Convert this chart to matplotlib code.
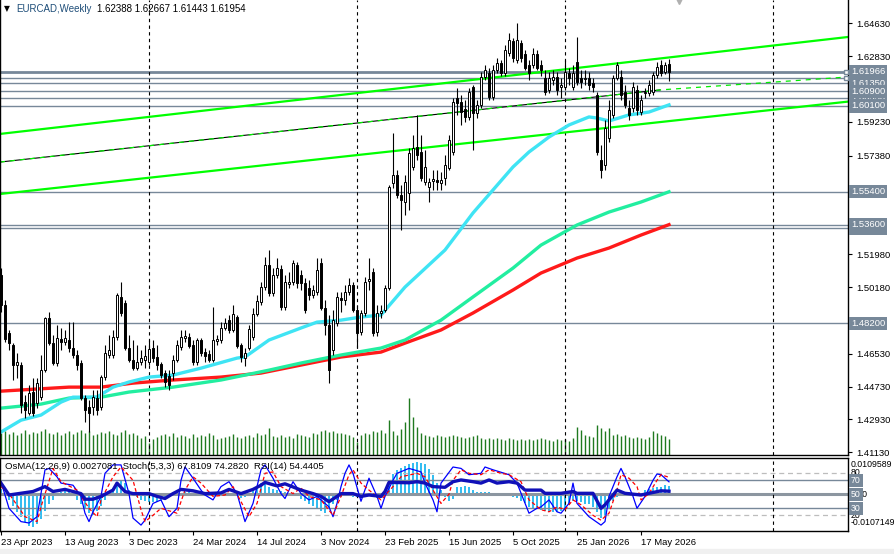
import matplotlib
matplotlib.use("Agg")
import matplotlib.pyplot as plt
import matplotlib.transforms as mtransforms
from matplotlib.patches import Rectangle
import numpy as np

plt.rcParams['font.family'] = ['Liberation Sans', 'DejaVu Sans']

# weekly candles EURCAD
opens = [1.5084, 1.4920, 1.4766, 1.4700, 1.4591, 1.4591, 1.4388, 1.4328, 1.4443, 1.4383,
         1.4415, 1.4563, 1.4848, 1.4711, 1.4602, 1.4733, 1.4717, 1.4728, 1.4684, 1.4646,
         1.4602, 1.4410, 1.4361, 1.4361, 1.4410, 1.4361, 1.4525, 1.4646, 1.4646, 1.4744,
         1.4964, 1.4931, 1.4684, 1.4618, 1.4574, 1.4607, 1.4618, 1.4607, 1.4684, 1.4635,
         1.4596, 1.4547, 1.4531, 1.4547, 1.4618, 1.4689, 1.4739, 1.4744, 1.4700, 1.4607,
         1.4728, 1.4662, 1.4651, 1.4618, 1.4722, 1.4728, 1.4794, 1.4837, 1.4783, 1.4854,
         1.4700, 1.4629, 1.4684, 1.4744, 1.4870, 1.4936, 1.5018, 1.5139, 1.4985, 1.5084,
         1.5117, 1.4909, 1.5035, 1.5046, 1.5139, 1.5084, 1.5040, 1.5013, 1.4975, 1.4991,
         1.5150, 1.4903, 1.4810, 1.4673, 1.4821, 1.4958, 1.4947, 1.4991, 1.5029, 1.4892,
         1.4772, 1.4876, 1.5051, 1.5100, 1.4772, 1.4876, 1.4892, 1.5013, 1.5588, 1.5632,
         1.5522, 1.5484, 1.5533, 1.5676, 1.5785, 1.5758, 1.5594, 1.5566, 1.5599, 1.5605,
         1.5588, 1.5616, 1.5670, 1.5758, 1.6054, 1.6032, 1.5994, 1.5950, 1.6114, 1.5972,
         1.6016, 1.6169, 1.6191, 1.6059, 1.6207, 1.6246, 1.6191, 1.6301, 1.6366, 1.6262,
         1.6355, 1.6295, 1.6235, 1.6235, 1.6295, 1.6235, 1.6164, 1.6098, 1.6153, 1.6169,
         1.6114, 1.6114, 1.6191, 1.6114, 1.6251, 1.6164, 1.6158, 1.6164, 1.6136, 1.6070,
         1.5714, 1.5687, 1.5835, 1.5961, 1.6164, 1.6169, 1.6087, 1.5999, 1.5999, 1.6098,
         1.5977, 1.6081, 1.6081, 1.6087, 1.6180, 1.6235, 1.6196, 1.62388]
highs = [1.5122, 1.4947, 1.4783, 1.4711, 1.4657, 1.4607, 1.4426, 1.4481, 1.4520, 1.4520,
         1.4646, 1.4854, 1.4881, 1.4755, 1.4810, 1.4794, 1.4783, 1.4826, 1.4826, 1.4673,
         1.4618, 1.4426, 1.4399, 1.4454, 1.4454, 1.4536, 1.4700, 1.4755, 1.4783, 1.4985,
         1.5046, 1.4947, 1.4755, 1.4728, 1.4700, 1.4673, 1.4700, 1.4728, 1.4728, 1.4700,
         1.4607, 1.4563, 1.4563, 1.4646, 1.4728, 1.4783, 1.4783, 1.4766, 1.4728, 1.4739,
         1.4739, 1.4684, 1.4673, 1.4909, 1.4755, 1.4826, 1.4848, 1.4865, 1.4920, 1.4865,
         1.4711, 1.4684, 1.4810, 1.4903, 1.4975, 1.5046, 1.5183, 1.5221, 1.5122, 1.5177,
         1.5139, 1.5084, 1.5100, 1.5166, 1.5155, 1.5111, 1.5068, 1.5057, 1.5029, 1.5177,
         1.5177, 1.4947, 1.4865, 1.4892, 1.4991, 1.4991, 1.5029, 1.5068, 1.5046, 1.4920,
         1.4892, 1.5073, 1.5177, 1.5122, 1.4920, 1.4920, 1.5029, 1.5577, 1.5862, 1.5659,
         1.5577, 1.5632, 1.5780, 1.5851, 1.5961, 1.5851, 1.5769, 1.5616, 1.5659, 1.5659,
         1.5648, 1.5742, 1.5851, 1.6054, 1.6109, 1.6070, 1.6043, 1.6109, 1.6125, 1.6043,
         1.6196, 1.6235, 1.6218, 1.6235, 1.6273, 1.6262, 1.6344, 1.6410, 1.6383, 1.6465,
         1.6372, 1.6317, 1.6262, 1.6328, 1.6317, 1.6262, 1.6207, 1.6196, 1.6207, 1.6196,
         1.6164, 1.6262, 1.6218, 1.6235, 1.6388, 1.6207, 1.6207, 1.6196, 1.6164, 1.6087,
         1.5796, 1.5933, 1.6043, 1.6180, 1.6251, 1.6207, 1.6125, 1.6043, 1.6142, 1.6125,
         1.6070, 1.6109, 1.6153, 1.6196, 1.6251, 1.6262, 1.6251, 1.62667]
lows = [1.4881, 1.4717, 1.4673, 1.4509, 1.4520, 1.4328, 1.4300, 1.4317, 1.4311, 1.4355,
        1.4399, 1.4553, 1.4700, 1.4591, 1.4585, 1.4673, 1.4700, 1.4662, 1.4629, 1.4563,
        1.4399, 1.4278, 1.4224, 1.4317, 1.4317, 1.4344, 1.4509, 1.4629, 1.4629, 1.4728,
        1.4859, 1.4673, 1.4607, 1.4563, 1.4563, 1.4591, 1.4574, 1.4591, 1.4607, 1.4563,
        1.4520, 1.4470, 1.4454, 1.4509, 1.4607, 1.4673, 1.4717, 1.4684, 1.4591, 1.4591,
        1.4640, 1.4607, 1.4607, 1.4607, 1.4700, 1.4711, 1.4783, 1.4766, 1.4772, 1.4684,
        1.4607, 1.4585, 1.4673, 1.4728, 1.4859, 1.4920, 1.5002, 1.4969, 1.4969, 1.5068,
        1.4892, 1.4892, 1.5013, 1.5029, 1.5013, 1.5002, 1.4876, 1.4947, 1.4958, 1.4975,
        1.4892, 1.4755, 1.4493, 1.4646, 1.4805, 1.4881, 1.4920, 1.4975, 1.4881, 1.4684,
        1.4755, 1.4859, 1.5002, 1.4750, 1.4750, 1.4848, 1.4881, 1.5002, 1.5561, 1.5506,
        1.5331, 1.5413, 1.5440, 1.5659, 1.5714, 1.5599, 1.5577, 1.5484, 1.5550, 1.5550,
        1.5550, 1.5577, 1.5659, 1.5742, 1.5961, 1.5906, 1.5922, 1.5933, 1.5769, 1.5944,
        1.5999, 1.6153, 1.6043, 1.6043, 1.6191, 1.6175, 1.6175, 1.6284, 1.6251, 1.6246,
        1.6251, 1.6207, 1.6153, 1.6218, 1.6207, 1.6175, 1.6070, 1.6081, 1.6125, 1.6070,
        1.6054, 1.6098, 1.6125, 1.6098, 1.6125, 1.6109, 1.6125, 1.6098, 1.6087, 1.5742,
        1.5616, 1.5659, 1.5813, 1.5944, 1.6153, 1.6043, 1.5999, 1.5933, 1.5977, 1.5961,
        1.5961, 1.6054, 1.6065, 1.6070, 1.6164, 1.6175, 1.6186, 1.61443]
closes = [1.4920, 1.4733, 1.4711, 1.4591, 1.4607, 1.4372, 1.4344, 1.4437, 1.4328, 1.4493,
          1.4563, 1.4848, 1.4711, 1.4602, 1.4739, 1.4717, 1.4739, 1.4684, 1.4646, 1.4591,
          1.4410, 1.4344, 1.4328, 1.4415, 1.4344, 1.4525, 1.4657, 1.4673, 1.4744, 1.4975,
          1.4876, 1.4684, 1.4618, 1.4574, 1.4607, 1.4629, 1.4640, 1.4678, 1.4629, 1.4591,
          1.4536, 1.4498, 1.4481, 1.4618, 1.4700, 1.4744, 1.4750, 1.4695, 1.4607, 1.4728,
          1.4657, 1.4640, 1.4618, 1.4728, 1.4733, 1.4794, 1.4821, 1.4783, 1.4870, 1.4695,
          1.4635, 1.4657, 1.4788, 1.4870, 1.4942, 1.5018, 1.5139, 1.4985, 1.5084, 1.5122,
          1.4909, 1.5046, 1.5046, 1.5150, 1.5040, 1.5040, 1.4892, 1.4975, 1.5002, 1.5111,
          1.4903, 1.4810, 1.4563, 1.4837, 1.4964, 1.4947, 1.4991, 1.5029, 1.4892, 1.4766,
          1.4876, 1.5046, 1.5062, 1.4766, 1.4876, 1.4887, 1.5013, 1.5566, 1.5632, 1.5522,
          1.5495, 1.5594, 1.5753, 1.5780, 1.5742, 1.5616, 1.5676, 1.5594, 1.5610, 1.5594,
          1.5605, 1.5687, 1.5824, 1.6032, 1.6027, 1.5977, 1.5950, 1.6087, 1.5972, 1.6016,
          1.6169, 1.6207, 1.6059, 1.6207, 1.6246, 1.6191, 1.6317, 1.6372, 1.6273, 1.6372,
          1.6273, 1.6218, 1.6191, 1.6295, 1.6218, 1.6207, 1.6087, 1.6164, 1.6169, 1.6098,
          1.6125, 1.6196, 1.6164, 1.6191, 1.6142, 1.6142, 1.6164, 1.6125, 1.6114, 1.5758,
          1.5659, 1.5890, 1.5988, 1.6164, 1.6235, 1.6070, 1.6016, 1.5961, 1.6114, 1.5988,
          1.6043, 1.6087, 1.6125, 1.6180, 1.6224, 1.6191, 1.6235, 1.61954]
volumes = [22, 24, 21, 23, 20, 22, 25, 21, 23, 22,
           24, 26, 22, 21, 23, 20, 22, 24, 21, 23,
           25, 22, 24, 20, 21, 23, 22, 24, 21, 20,
           23, 25, 21, 22, 20, 17, 19, 12, 16, 18,
           20, 21, 19, 22, 18, 20, 19, 17, 21, 18,
           20, 19, 22, 20, 16, 17, 18, 19, 21, 18,
           17, 19, 20, 18, 22, 20, 21, 27, 19, 18,
           20, 18, 19, 17, 21, 20, 19, 18, 22, 21,
           24, 25, 23, 24, 22, 22, 21, 20, 18, 13,
           20, 22, 21, 24, 23, 25, 22, 35, 24, 20,
           26, 33, 57, 38, 28, 22, 20, 19, 18, 20,
           19, 18, 19, 20, 19, 18, 17, 18, 19, 20,
           17, 16, 17, 16, 17, 16, 15, 17, 16, 15,
           16, 15, 16, 15, 16, 17, 16, 15, 14, 16,
           15, 16, 14, 17, 28, 25, 20, 19, 18, 30,
           27, 24, 27, 20, 21, 19, 20, 18, 17, 18,
           17, 16, 18, 24, 22, 20, 19, 16]

# moving averages (bar index, price)
ma_fast_idx = [0, 5, 10, 15, 18, 24, 28, 32, 37, 43, 50, 59, 61, 67, 75, 79, 85, 90, 95, 101,
               111, 118, 123, 128, 132, 137, 142, 147, 149, 152, 157, 162, 167]
ma_fast = [1.4224, 1.4289, 1.4317, 1.4388, 1.4415, 1.4415, 1.4470, 1.4498, 1.4525, 1.4536,
           1.4574, 1.4629, 1.4635, 1.4728, 1.4794, 1.4826, 1.4837, 1.4854, 1.4865, 1.5018,
           1.5221, 1.5424, 1.5550, 1.5676, 1.5758, 1.5840, 1.5906, 1.5950, 1.5944, 1.5928,
           1.5961, 1.5977, 1.6016]
ma_mid_idx = [0, 10, 17, 25, 32, 43, 55, 67, 75, 85, 95, 101, 110, 118, 128, 135, 144, 152, 160, 167]
ma_mid = [1.4355, 1.4377, 1.4410, 1.4415, 1.4443, 1.4470, 1.4509, 1.4563, 1.4602, 1.4646,
          1.4684, 1.4728, 1.4837, 1.4964, 1.5122, 1.5248, 1.5358, 1.5429, 1.5484, 1.5540]
ma_slow_idx = [0, 17, 25, 33, 43, 55, 65, 75, 85, 95, 101, 110, 118, 128, 135, 144, 152, 160, 167]
ma_slow = [1.4448, 1.4470, 1.4470, 1.4492, 1.4509, 1.4525, 1.4547, 1.4591, 1.4635, 1.4662,
           1.4711, 1.4783, 1.4876, 1.5002, 1.5095, 1.5177, 1.5232, 1.5303, 1.5360]

# trend lines
chan_x = [-0.25, 211.75]
chan_upper = [1.5857, 1.6388]
chan_lower = [1.5528, 1.6034]
mid_x = [-0.25, 164.75, 211.75]
mid_line = [1.5703, 1.6098, 1.6169]

# horizontal levels
levels = [1.61966, 1.61620, 1.61350, 1.60900, 1.60550, 1.60100, 1.55400, 1.53600, 1.53400, 1.48200]
levels_hidden = [1.61620, 1.61350, 1.60550, 1.53400]
price_ticks = [1.64630, 1.62830, 1.59230, 1.57380, 1.51980, 1.50180, 1.46530, 1.44730, 1.42930, 1.41130]

# indicators
osma = [0.0018, 0.0005, -0.0015, -0.0035, -0.0055, -0.0070, -0.0085, -0.0097, -0.0100, -0.0092,
        -0.0075, -0.0050, -0.0030, -0.0015, -0.0005, 0.0008, 0.0010, 0.0008, 0.0003, -0.0015,
        -0.0030, -0.0045, -0.0058, -0.0062, -0.0050, -0.0035, -0.0015, 0.0005, 0.0020, 0.0035,
        0.0044, 0.0035, 0.0015, 0.0003, -0.0008, -0.0015, -0.0020, -0.0023, -0.0023, -0.0022,
        -0.0018, -0.0012, -0.0008, -0.0003, 0.0002, 0.0005, 0.0008, 0.0008, 0.0006, 0.0008,
        0.0008, 0.0006, 0.0003, 0.0002, 0.0005, 0.0008, 0.0005, 0.0003, 0.0002, -0.0005,
        -0.0010, -0.0006, 0.0005, 0.0015, 0.0028, 0.0035, 0.0033, 0.0025, 0.0018, 0.0015,
        0.0010, 0.0008, 0.0005, 0.0003, -0.0005, -0.0012, -0.0020, -0.0028, -0.0035, -0.0040,
        -0.0050, -0.0058, -0.0045, -0.0030, -0.0015, -0.0008, -0.0005, -0.0003, -0.0006, -0.0008,
        -0.0005, -0.0003, -0.0002, -0.0008, -0.0010, -0.0005, 0.0010, 0.0045, 0.0065, 0.0075,
        0.0083, 0.0090, 0.0094, 0.0098, 0.0100, 0.0098, 0.0095, 0.0080, 0.0060, 0.0035,
        0.0015, -0.0008, -0.0018, -0.0012, 0.0024, 0.0024, 0.0026, 0.0024, 0.0016, 0.0008,
        0.0008, 0.0008, 0.0008, 0.0005, 0.0003, -0.0003, -0.0002, -0.0003, -0.0007, -0.0010,
        -0.0018, -0.0027, -0.0038, -0.0043, -0.0045, -0.0048, -0.0050, -0.0053, -0.0054, -0.0054,
        -0.0052, -0.0048, -0.0033, -0.0018, -0.0020, -0.0023, -0.0028, -0.0030, -0.0038, -0.0053,
        -0.0073, -0.0068, -0.0045, -0.0018, -0.0008, 0.0008, 0.0008, 0.0008, 0.0006, 0.0005,
        0.0005, 0.0013, 0.0018, 0.0022, 0.0024, 0.0024, 0.0029, 0.0027]
stoch_idx = [0, 2, 5, 7, 9, 10, 11, 12, 14, 15, 18, 20, 21, 22, 23, 25, 26, 28, 30, 32,
             33, 35, 36, 38, 40, 42, 44, 45, 46, 48, 50, 51, 53, 55, 57, 59, 61, 63, 65, 66,
             68, 70, 71, 73, 75, 77, 79, 80, 82, 83, 84, 85, 86, 87, 88, 90, 92, 94, 95, 96,
             98, 99, 102, 105, 106, 108, 109, 110, 113, 115, 117, 120, 121, 123, 127, 129, 132, 134, 135, 137,
             139, 140, 142, 143, 144, 147, 150, 151, 152, 154, 155, 156, 158, 159, 161, 163, 164, 165, 167]
stoch_main = [68, 30, 11, 9, 18, 51, 85, 87, 75, 66, 63, 47, 23, 11, 25, 47, 80, 92, 92, 51,
              16, 6, 13, 37, 42, 18, 30, 70, 89, 73, 56, 49, 42, 61, 68, 51, 11, 37, 85, 92,
              73, 51, 44, 68, 51, 42, 47, 42, 32, 18, 37, 61, 80, 92, 80, 40, 73, 47, 30, 47,
              70, 80, 87, 82, 66, 42, 25, 66, 89, 87, 78, 80, 89, 85, 78, 66, 23, 30, 32, 42,
              25, 23, 37, 66, 37, 18, 6, 11, 47, 75, 87, 75, 47, 30, 47, 70, 79, 78, 67.81]
signal_idx = [0, 2, 6, 9, 10, 13, 15, 19, 22, 24, 25, 28, 30, 33, 35, 36, 38, 40, 44, 46,
              48, 50, 53, 56, 58, 62, 64, 66, 68, 70, 73, 75, 77, 80, 83, 85, 87, 88, 90, 92,
              95, 98, 100, 104, 106, 108, 110, 112, 113, 115, 117, 120, 122, 125, 127, 130, 132, 135, 137, 139,
              141, 143, 145, 148, 150, 152, 154, 155, 157, 159, 160, 162, 164, 165, 167]
stoch_signal = [61, 51, 18, 11, 32, 87, 68, 56, 30, 18, 42, 75, 89, 70, 28, 11, 20, 30, 23, 56,
                75, 66, 47, 49, 61, 18, 37, 80, 82, 61, 51, 59, 47, 42, 20, 47, 78, 85, 66, 56,
                42, 61, 75, 80, 75, 56, 37, 50, 70, 85, 80, 78, 85, 80, 78, 68, 42, 28, 25, 32,
                28, 42, 35, 20, 13, 23, 56, 78, 73, 61, 42, 51, 70, 78, 74.28]
rsi_idx = [0, 2, 8, 11, 13, 16, 20, 21, 23, 25, 28, 29, 31, 33, 37, 39, 41, 43, 45, 48,
           51, 55, 57, 60, 63, 65, 66, 69, 71, 75, 78, 80, 82, 84, 85, 88, 90, 92, 95, 96,
           97, 102, 104, 106, 108, 111, 113, 115, 118, 120, 122, 124, 127, 129, 131, 135, 136, 140, 143, 144,
           148, 150, 151, 153, 154, 156, 160, 162, 165, 167]
rsi = [66, 49, 54, 61, 54, 57, 51, 43, 43, 47, 56, 66, 54, 51, 51, 47, 44, 51, 57, 55,
       51, 52, 57, 51, 57, 63, 67, 62, 65, 56, 51, 47, 39.5, 47, 51, 51, 47, 49, 47, 54,
       67, 66.5, 68, 66, 61, 60, 68, 70.5, 68, 66, 70.5, 66, 68, 66, 56, 56, 51.4, 51.4, 54, 51.4,
       51.4, 30, 35, 49, 56, 51.4, 49, 51.4, 55, 54.44]

date_idx = [0, 16, 32, 48, 64, 80, 96, 112, 128, 144, 160]
date_labels = ['23 Apr 2023', '13 Aug 2023', '3 Dec 2023', '24 Mar 2024', '14 Jul 2024',
               '3 Nov 2024', '23 Feb 2025', '15 Jun 2025', '5 Oct 2025', '25 Jan 2026', '17 May 2026']
year_sep = [37, 89, 141, 193]

# ---------------------------------------------------------------
W, H = 894, 554
fig = plt.figure(figsize=(W / 100, H / 100), dpi=100)
fig.patch.set_facecolor('white')


def rect(x0, y0, x1, y1):
    return [x0 / W, 1 - y1 / H, (x1 - x0) / W, (y1 - y0) / H]


FS = 6.8
LVL = '#778899'
XL = (-0.25, 211.75)

vol_ax = fig.add_axes(rect(0, 0, 848, 455))
ax = fig.add_axes(rect(0, 0, 848, 455))
ax.patch.set_alpha(0)

# volumes
idx = np.arange(len(closes))
vol_ax.vlines(idx, 0, volumes, color='#1f7a1f', lw=1.0)
vol_ax.set_xlim(*XL)
vol_ax.set_ylim(0, 455)
vol_ax.axis('off')

ax.set_xlim(*XL)
ax.set_ylim(1.40982, 1.65906)

# level lines
for lv in levels:
    ax.axhline(lv, color=LVL, lw=2.0 if lv == 1.61966 else 1.0, zorder=1)

for s in year_sep:
    ax.axvline(s, color='black', lw=0.8, ls=(0, (3, 3)), zorder=1)

# trend lines
ax.plot(chan_x, chan_upper, color='#00ff00', lw=1.6, zorder=2)
ax.plot(chan_x, chan_lower, color='#00ff00', lw=1.6, zorder=2)
ax.plot(mid_x[:2], mid_line[:2], color='black', lw=0.8, zorder=2)
ax.plot(mid_x, mid_line, color='#00ee00', lw=0.9, ls=(0, (4, 4)), zorder=2)

# moving averages
ax.plot(ma_slow_idx, ma_slow, color='#ff1a1a', lw=2.4, zorder=2)
ax.plot(ma_mid_idx, ma_mid, color='#22eea0', lw=2.4, zorder=2)
ax.plot(ma_fast_idx, ma_fast, color='#3fe4f4', lw=2.4, zorder=2)

# candles
o = np.array(opens)
c = np.array(closes)
hi = np.array(highs)
lo = np.array(lows)
up = c >= o
ax.vlines(idx, lo, hi, color='black', lw=0.8, zorder=3)
blo = np.minimum(o, c)
bh = np.maximum(np.abs(c - o), 0.0003)
ax.bar(idx[up], bh[up], bottom=blo[up], width=0.6, color='white', edgecolor='black', lw=0.7, zorder=4)
ax.bar(idx[~up], bh[~up], bottom=blo[~up], width=0.6, color='black', edgecolor='black', lw=0.7, zorder=4)

# right price axis
ax.yaxis.tick_right()
ax.set_yticks(price_ticks)
ax.set_yticklabels([f'{p:.5f}' for p in price_ticks])
ax.tick_params(axis='y', direction='out', length=3, width=0.8, labelsize=FS, pad=3)
ax.tick_params(axis='x', bottom=False, labelbottom=False)
ax.spines['top'].set_visible(False)
for sp in ['left', 'right', 'bottom']:
    ax.spines[sp].set_linewidth(1.0)

# price boxes (later ones cover the earlier ones, as in the terminal)
trans = mtransforms.blended_transform_factory(ax.transAxes, ax.transData)
box_kw = dict(boxstyle='square,pad=0.22', fc=LVL, ec='none')
z = 10
for lv in levels_hidden + [p for p in levels if p not in levels_hidden]:
    ax.text(1.0 + 3 / 848, lv, f'{lv:.5f}', transform=trans, ha='left', va='center',
            fontsize=FS, color='white', bbox=box_kw, clip_on=False, zorder=z)
    z += 1
ax.plot([211.2, 211.2], [1.61966, 1.61620], ls='none', marker='s', ms=3.5,
        mfc='white', mec=LVL, mew=1, zorder=6, clip_on=False)
ax.plot([169.5], [1.65906], marker='v', ms=6, color='#b0b0b0', clip_on=False, zorder=6)

# titles
fig.text(4 / W, 1 - 9 / H, '\u25bc', fontsize=5.5, va='center', ha='left', family='DejaVu Sans')
fig.text(16 / W, 1 - 9 / H, 'EURCAD,Weekly', fontsize=7, va='center', ha='left', color='#1f4e79')
fig.text(97 / W, 1 - 9 / H, '1.62388 1.62667 1.61443 1.61954', fontsize=7, va='center', ha='left')

# ---------------- indicator window
sub = fig.add_axes(rect(0, 458, 848, 531))
osa = sub.twinx()
sub.set_zorder(osa.get_zorder() + 1)
sub.patch.set_visible(False)

osa.bar(idx, osma, width=0.62, color='#35bdf0', zorder=1)
osa.set_ylim(-0.011242, 0.011362)
osa.set_xlim(*XL)
osa.axis('off')

sub.set_xlim(*XL)
sub.set_ylim(-2.43, 101.86)
for v in (80, 20):
    sub.axhline(v, color='#bdbdbd', lw=0.9, ls=(0, (4, 3)))
for v in (70, 30):
    sub.axhline(v, color=LVL, lw=1.0)
sub.axhline(50, color='#8c96a0', lw=2.2)
for s in year_sep:
    sub.axvline(s, color='black', lw=0.8, ls=(0, (3, 3)))

sub.plot(stoch_idx, stoch_main, color='#0000ff', lw=0.9)
sub.plot(signal_idx, stoch_signal, color='#ff0000', lw=0.9, ls=(0, (3, 2)))
sub.plot(rsi_idx, rsi, color='#1010b8', lw=2.4)

sub.set_yticks([])
sub.set_xticks(date_idx)
sub.set_xticklabels(date_labels)
for t in sub.get_xticklabels():
    t.set_horizontalalignment('left')
sub.tick_params(axis='x', direction='out', length=3, width=0.8, labelsize=FS, pad=2)
for sp in sub.spines.values():
    sp.set_linewidth(1.0)

sub.text(5 / 848, 0.89, 'OsMA(12,26,9) 0.0027081  Stoch(5,3,3) 67.8109 74.2820  RSI(14) 54.4405',
         transform=sub.transAxes, fontsize=FS, va='center', ha='left')

strans = mtransforms.blended_transform_factory(sub.transAxes, sub.transData)
xr = 1.0 + 3 / 848
SFS = 6.3
sub.text(xr, 92, '0.0109589', transform=strans, fontsize=SFS, va='center', ha='left', clip_on=False)
sub.text(xr, 80.5, '80', transform=strans, fontsize=SFS, va='center', ha='left', clip_on=False)
sub.text(xr, 50, '0.00', transform=strans, fontsize=SFS, va='center', ha='left', clip_on=False)
for v in (70, 50, 30):
    sub.text(xr, v, f'{v}', transform=strans, fontsize=SFS, va='center', ha='left', color='white',
             bbox=box_kw, clip_on=False, zorder=10)
sub.text(xr, 19.5, '20', transform=strans, fontsize=SFS, va='center', ha='left', clip_on=False)
sub.text(xr, 10, '-0.0107149', transform=strans, fontsize=SFS, va='center', ha='left', clip_on=False)

fig.patches.append(Rectangle((0, 0), 1, 5 / H, transform=fig.transFigure, color='#f0f0f0', zorder=0))

fig.savefig('out.png', dpi=100)
